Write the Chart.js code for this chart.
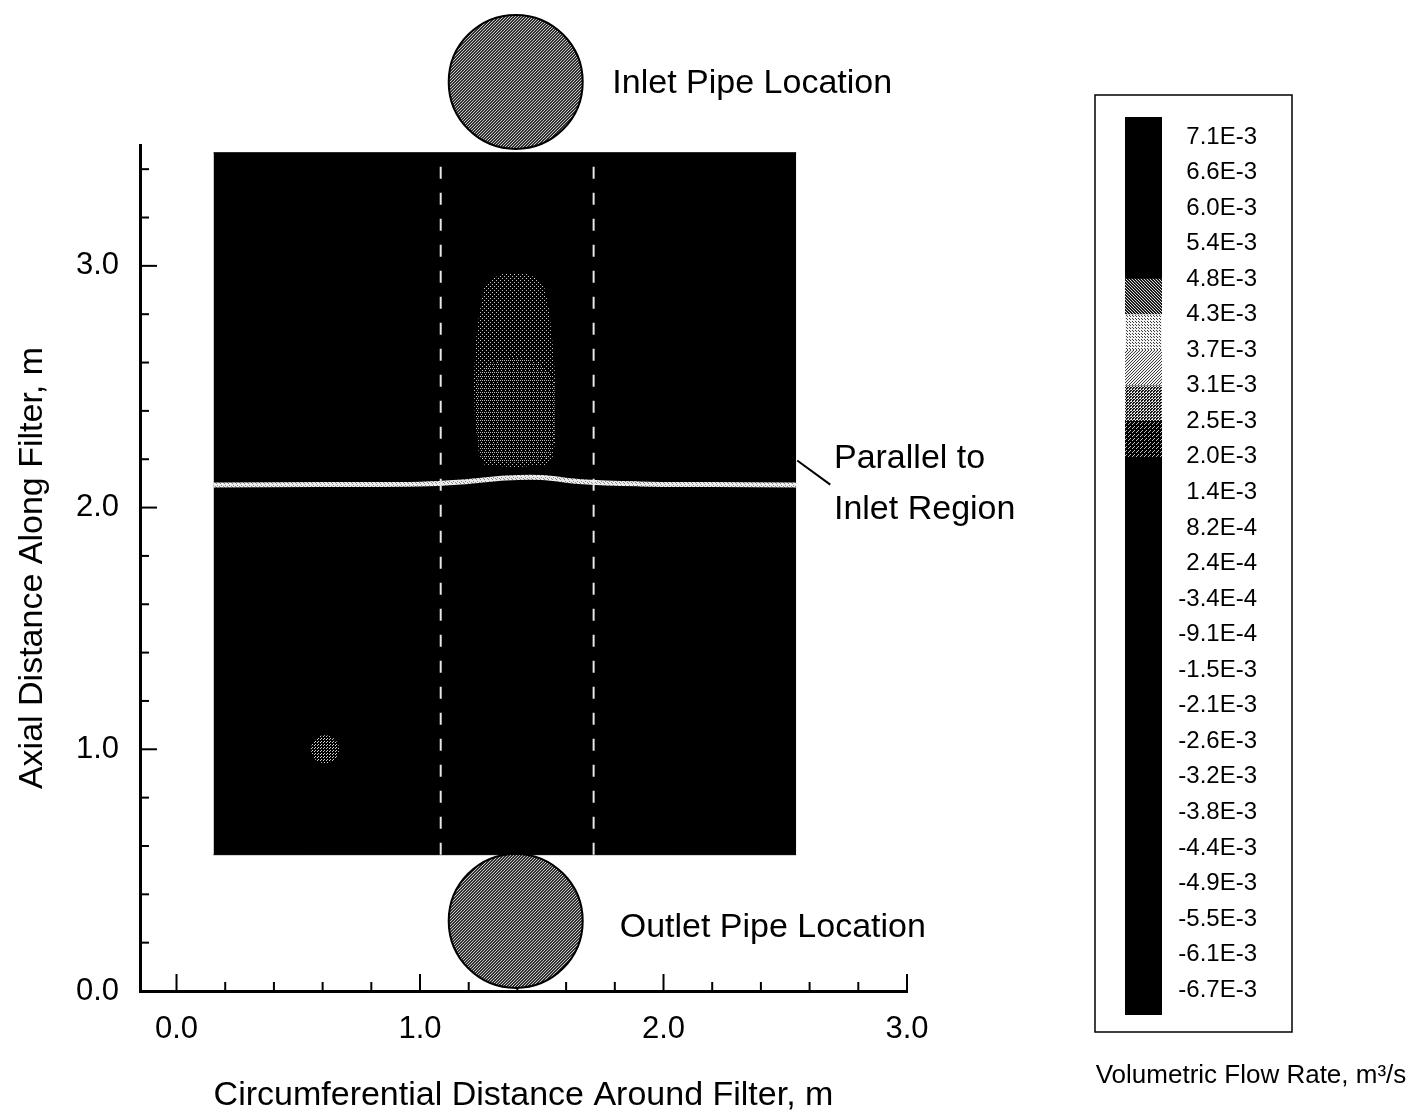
<!DOCTYPE html>
<html>
<head>
<meta charset="utf-8">
<script src="https://cdn.jsdelivr.net/npm/chart.js@4.4.0/dist/chart.umd.min.js"></script>
<style>
    html, body { margin: 0; padding: 0; background: #fff; }
    body { width: 1412px; height: 1120px; position: relative; overflow: hidden; }
    #caixaFiltro { position: absolute; left: 0; top: 0; width: 1080px; height: 1120px; }
    #caixaEscala { position: absolute; left: 1080px; top: 80px; width: 332px; height: 1040px; }
</style>
</head>
<body>
<div id="caixaFiltro"><canvas id="grafico"></canvas></div>
<div id="caixaEscala"><canvas id="escala"></canvas></div>
<script>
// dados (metros)
const filterX = [0.152, 2.545];
const filterY = [0.564, 3.468];

const pipeX = [1.393, 1.393];
const pipeY = [3.761, 0.290];

// contorno 2.0E-3 .. 2.5E-3 (regiao cinza acima da linha)
const zoneOuterX = [1.262, 1.290, 1.335, 1.389, 1.443, 1.488, 1.512, 1.530, 1.543, 1.553, 1.557, 1.557, 1.545, 1.512, 1.389, 1.266, 1.242, 1.225, 1.221, 1.230, 1.242, 1.252];
const zoneOuterY = [2.905, 2.945, 2.965, 2.971, 2.965, 2.945, 2.905, 2.822, 2.698, 2.574, 2.408, 2.283, 2.209, 2.176, 2.167, 2.176, 2.221, 2.366, 2.532, 2.698, 2.790, 2.850];
// contorno 2.5E-3 .. 3.1E-3
const zoneInnerX = [1.236, 1.300, 1.389, 1.480, 1.545, 1.552, 1.545, 1.510, 1.389, 1.268, 1.243, 1.232];
const zoneInnerY = [2.540, 2.600, 2.620, 2.600, 2.540, 2.366, 2.245, 2.200, 2.188, 2.200, 2.245, 2.366];

const spotX = [0.61];
const spotY = [1.00];

// linha clara "Parallel to Inlet Region"
const streakX = [0.152, 0.60, 1.00, 1.20, 1.35, 1.50, 1.65, 1.90, 2.20, 2.545];
const streakY = [2.093, 2.095, 2.097, 2.108, 2.122, 2.124, 2.108, 2.098, 2.095, 2.093];

// linhas tracejadas verticais
const seamX = [1.085, 1.713];

const leaderX = [2.549, 2.685];
const leaderY = [2.195, 2.095];

const xMajor = [0, 1, 2, 3];
const xLabels = ['0.0', '1.0', '2.0', '3.0'];
const yMajor = [0, 1, 2, 3];
const yLabels = ['0.0', '1.0', '2.0', '3.0'];

const notes = [
    { text: 'Inlet Pipe Location', x: 1.79, y: 3.752 },
    { text: 'Outlet Pipe Location', x: 1.82, y: 0.262 },
    { text: 'Parallel to', x: 2.70, y: 2.203 },
    { text: 'Inlet Region', x: 2.70, y: 1.990 }
];

const colorbarLabels = ['7.1E-3', '6.6E-3', '6.0E-3', '5.4E-3', '4.8E-3', '4.3E-3', '3.7E-3', '3.1E-3', '2.5E-3',
    '2.0E-3', '1.4E-3', '8.2E-4', '2.4E-4', '-3.4E-4', '-9.1E-4', '-1.5E-3', '-2.1E-3', '-2.6E-3', '-3.2E-3',
    '-3.8E-3', '-4.4E-3', '-4.9E-3', '-5.5E-3', '-6.1E-3', '-6.7E-3'];
// faixas cinzas da escala (de, ate)
const bandFrom = ['2.0E-3', '2.5E-3', '3.1E-3', '3.7E-3', '4.3E-3'];
const bandTo = ['2.5E-3', '3.1E-3', '3.7E-3', '4.3E-3', '4.8E-3'];
const bandShade = ['sparse', 'medium', 'light2', 'light1', 'dark'];

Chart.defaults.font.family = '"Liberation Sans", Arial, Helvetica, sans-serif';
Chart.defaults.color = '#000';

function makePattern(ctx, size, bg, fg, dots) {
    const c = document.createElement('canvas');
    c.width = size;
    c.height = size;
    const g = c.getContext('2d');
    g.fillStyle = bg;
    g.fillRect(0, 0, size, size);
    g.fillStyle = fg;
    dots.forEach(function (d) { g.fillRect(d[0], d[1], 1, 1); });
    return ctx.createPattern(c, 'repeat');
}

function texturas(ctx) {
    return {
        pipe: makePattern(ctx, 3, '#303030', '#c8c8c8', [[0, 0], [1, 2], [2, 1]]),
        sparse: makePattern(ctx, 4, '#000', '#c8c8c8', [[0, 0], [2, 2]]),
        medium: makePattern(ctx, 4, '#000', '#bdbdbd', [[0, 0], [2, 0], [1, 2]]),
        spot: makePattern(ctx, 3, '#000', '#d0d0d0', [[0, 0], [2, 1]]),
        streak: makePattern(ctx, 4, '#ececec', '#8a8a8a', [[1, 1], [3, 2], [0, 3]]),
        dark: makePattern(ctx, 3, '#1a1a1a', '#dcdcdc', [[0, 0], [1, 1], [2, 2]]),
        light1: makePattern(ctx, 3, '#3c3c3c', '#f2f2f2', [[0, 0], [1, 0], [2, 0], [0, 1], [2, 1], [0, 2], [1, 2]]),
        light2: makePattern(ctx, 3, '#3c3c3c', '#f0f0f0', [[0, 0], [1, 0], [0, 1], [2, 1], [1, 2], [2, 2]]),
        bandMedium: makePattern(ctx, 3, '#161616', '#e0e0e0', [[0, 0], [2, 0], [1, 1], [0, 2]]),
        bandSparse: makePattern(ctx, 4, '#000', '#bdbdbd', [[0, 0], [2, 2], [1, 3]])
    };
}

function pts(xs, ys) {
    return xs.map(function (x, i) { return { x: x, y: ys[i] }; });
}

function isMajor(v) {
    return Math.abs(v - Math.round(v)) < 1e-6;
}

function labelFor(v, majors, labels) {
    for (let i = 0; i < majors.length; i++) {
        if (Math.abs(majors[i] - v) < 1e-6) return labels[i];
    }
    return '';
}

// marcas menores a cada 0.2 m
const xTicks = [];
for (let v = 0; v <= 3.0001; v += 0.2) xTicks.push(Math.round(v * 10) / 10);
const yTicks = [];
for (let v = 0; v <= 3.4001; v += 0.2) yTicks.push(Math.round(v * 10) / 10);

const ctxGrafico = document.getElementById('grafico').getContext('2d');
const tex = texturas(ctxGrafico);

const marcas = {
    id: 'marcas',
    beforeDatasetsDraw(chart) {
        const c = chart.ctx;
        const xs = chart.scales.x;
        const ys = chart.scales.y;
        const area = chart.chartArea;
        c.save();
        c.strokeStyle = '#000';
        c.lineWidth = 2;
        xs.ticks.forEach(function (t) {
            const px = xs.getPixelForValue(t.value);
            const len = isMajor(t.value) ? 17 : 9;
            c.beginPath();
            c.moveTo(px, area.bottom);
            c.lineTo(px, area.bottom - len);
            c.stroke();
        });
        ys.ticks.forEach(function (t) {
            const py = ys.getPixelForValue(t.value);
            const len = isMajor(t.value) ? 17 : 9;
            c.beginPath();
            c.moveTo(area.left, py);
            c.lineTo(area.left + len, py);
            c.stroke();
        });
        c.restore();
    },
    afterDraw(chart) {
        const c = chart.ctx;
        const xs = chart.scales.x;
        const ys = chart.scales.y;
        c.save();
        c.font = '34px "Liberation Sans", Arial, sans-serif';
        c.fillStyle = '#000';
        c.textAlign = 'left';
        c.textBaseline = 'middle';
        notes.forEach(function (n) {
            c.fillText(n.text, xs.getPixelForValue(n.x), ys.getPixelForValue(n.y));
        });
        c.restore();
    }
};

const datasets_grafico = [
    {
        type: 'line', data: pts(filterX, [filterY[1], filterY[1]]), fill: '+1',
        backgroundColor: '#000', borderColor: '#000', borderWidth: 1, pointRadius: 0, order: 20
    },
    {
        type: 'line', data: pts(filterX, [filterY[0], filterY[0]]), fill: false,
        borderColor: '#000', borderWidth: 1, pointRadius: 0, order: 21
    },
    {
        type: 'line', data: pts(zoneOuterX, zoneOuterY), fill: 'shape', backgroundColor: tex.sparse,
        borderColor: 'rgba(0,0,0,0)', borderWidth: 1, pointRadius: 0, order: 15
    },
    {
        type: 'line', data: pts(zoneInnerX, zoneInnerY), fill: 'shape', backgroundColor: tex.medium,
        borderColor: 'rgba(0,0,0,0)', borderWidth: 1, pointRadius: 0, tension: 0.3, order: 14
    },
    {
        type: 'scatter', data: pts(spotX, spotY), pointRadius: 14, pointBackgroundColor: tex.spot,
        pointBorderColor: 'rgba(0,0,0,0)', pointBorderWidth: 0, order: 12
    },
    {
        type: 'line', data: pts(streakX, streakY), fill: false, borderColor: tex.streak, borderWidth: 5,
        tension: 0.4, pointRadius: 0, order: 10
    },
    {
        type: 'line', data: pts([seamX[0], seamX[0]], filterY), fill: false, borderColor: '#e6e6e6',
        borderWidth: 2, borderDash: [12, 14], pointRadius: 0, order: 9
    },
    {
        type: 'line', data: pts([seamX[1], seamX[1]], filterY), fill: false, borderColor: '#e6e6e6',
        borderWidth: 2, borderDash: [12, 14], pointRadius: 0, order: 8
    },
    {
        type: 'line', data: pts(leaderX, leaderY), fill: false, borderColor: '#000', borderWidth: 2,
        pointRadius: 0, clip: false, order: 3
    },
    {
        type: 'scatter', data: pts(pipeX, pipeY), pointRadius: 67, pointBackgroundColor: tex.pipe,
        pointBorderColor: '#000', pointBorderWidth: 2, clip: false, order: 1
    }
];

const config_grafico = {
    type: 'scatter',
    data: { datasets: datasets_grafico },
    options: {
        animation: false,
        responsive: true,
        maintainAspectRatio: false,
        events: [],
        layout: { padding: { left: 0, top: 145, right: 173, bottom: 0 } },
        plugins: {
            legend: { display: false },
            tooltip: { enabled: false }
        },
        scales: {
            x: {
                type: 'linear',
                min: -0.15,
                max: 3.0,
                grid: { display: false },
                border: { display: true, color: '#000', width: 3 },
                afterBuildTicks: function (s) { s.ticks = xTicks.map(function (v) { return { value: v }; }); },
                afterFit: function (s) { s.height = 129; },
                ticks: {
                    autoSkip: false,
                    maxRotation: 0,
                    padding: 12,
                    font: { size: 31 },
                    color: '#000',
                    callback: function (v) { return labelFor(v, xMajor, xLabels); }
                },
                title: {
                    display: true,
                    text: 'Circumferential Distance Around Filter, m',
                    font: { size: 34 },
                    color: '#000',
                    padding: { top: 0, bottom: 4 }
                }
            },
            y: {
                type: 'linear',
                min: 0,
                max: 3.5,
                grid: { display: false },
                border: { display: true, color: '#000', width: 3 },
                afterBuildTicks: function (s) { s.ticks = yTicks.map(function (v) { return { value: v }; }); },
                afterFit: function (s) { s.width = 140; },
                ticks: {
                    autoSkip: false,
                    padding: 13,
                    font: { size: 31 },
                    color: '#000',
                    callback: function (v) { return labelFor(v, yMajor, yLabels); }
                },
                title: {
                    display: true,
                    text: 'Axial Distance Along Filter, m',
                    font: { size: 34 },
                    color: '#000',
                    padding: { top: 12, bottom: 0 }
                }
            }
        }
    },
    plugins: [marcas]
};

const grafico = new Chart(ctxGrafico, config_grafico);

// ---------- escala de cores ----------
const ctxEscala = document.getElementById('escala').getContext('2d');
const texE = texturas(ctxEscala);
const nLab = colorbarLabels.length;

function posLabel(lab) {
    return nLab - 1 - colorbarLabels.indexOf(lab);
}

const shadeFill = {
    sparse: texE.bandSparse,
    medium: texE.bandMedium,
    light2: texE.light2,
    light1: texE.light1,
    dark: texE.dark
};

const datasets_escala = [
    { data: [[-0.7, nLab - 0.44]], backgroundColor: '#000', order: 10 }
];
bandFrom.forEach(function (lab, i) {
    datasets_escala.push({
        data: [[posLabel(lab), posLabel(bandTo[i])]],
        backgroundColor: shadeFill[bandShade[i]],
        order: 1
    });
});
datasets_escala.forEach(function (d) {
    d.barPercentage = 1;
    d.categoryPercentage = 1;
    d.borderWidth = 0;
    d.grouped = false;
});

const moldura = {
    id: 'moldura',
    afterDraw(chart) {
        const c = chart.ctx;
        const a = chart.chartArea;
        c.save();
        c.strokeStyle = '#000';
        c.lineWidth = 1.5;
        c.strokeRect(a.left - 30, a.top - 22, 197, 937);
        c.font = '26px "Liberation Sans", Arial, sans-serif';
        c.fillStyle = '#000';
        c.textAlign = 'center';
        c.textBaseline = 'middle';
        c.fillText('Volumetric Flow Rate, m\u00B3/s', a.right + 89, a.bottom + 61);
        c.restore();
    }
};

const escala = new Chart(ctxEscala, {
    type: 'bar',
    data: { labels: [''], datasets: datasets_escala },
    options: {
        animation: false,
        responsive: true,
        maintainAspectRatio: false,
        events: [],
        layout: { padding: { left: 45, top: 37, right: 155, bottom: 105 } },
        plugins: {
            legend: { display: false },
            tooltip: { enabled: false }
        },
        scales: {
            x: { display: false },
            y: {
                position: 'right',
                min: -0.7,
                max: nLab - 0.44,
                grid: { display: false },
                border: { display: false },
                afterBuildTicks: function (s) {
                    s.ticks = colorbarLabels.map(function (l, i) { return { value: nLab - 1 - i }; });
                },
                afterFit: function (s) { s.width = 95; },
                ticks: {
                    autoSkip: false,
                    crossAlign: 'far',
                    padding: 4,
                    font: { size: 24 },
                    color: '#000',
                    callback: function (v) { return colorbarLabels[nLab - 1 - v]; }
                }
            }
        }
    },
    plugins: [moldura]
});
</script>
</body>
</html>
